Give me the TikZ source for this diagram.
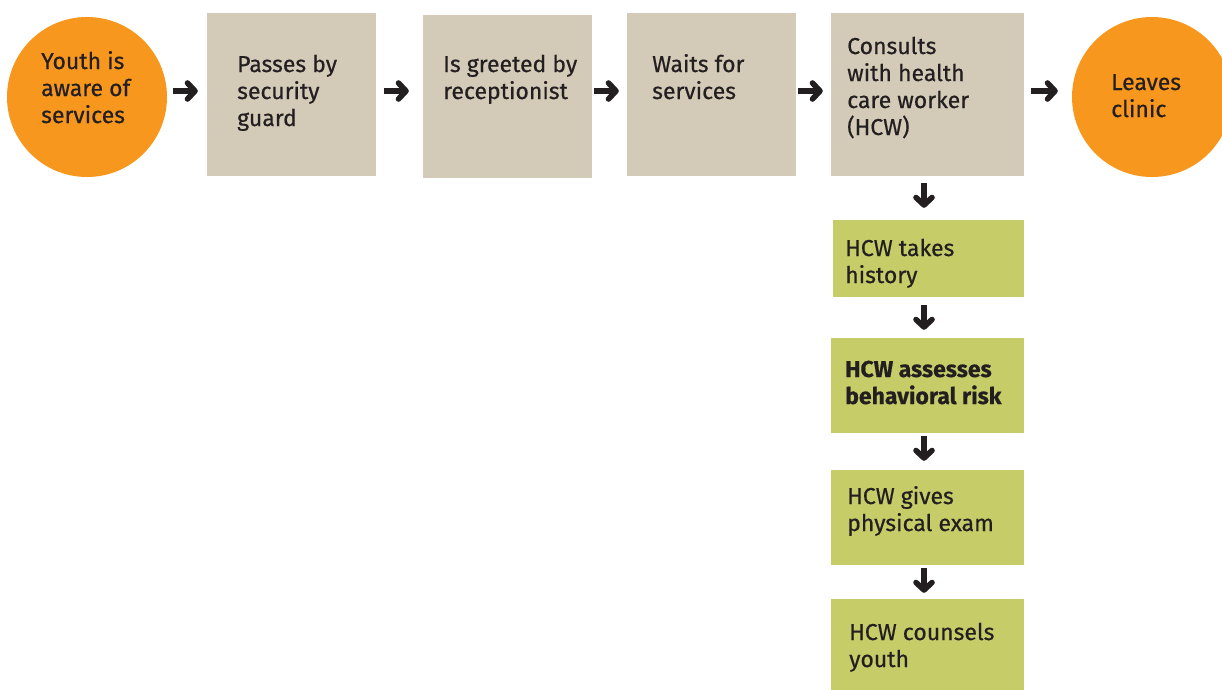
\documentclass[tikz,border=0pt]{standalone}
\usepackage{fontspec}
\setmainfont{Fira Sans}[FakeBold=0.5]
\usetikzlibrary{arrows.meta,calc}
\definecolor{orng}{RGB}{247,151,30}
\definecolor{beige}{RGB}{211,203,184}
\definecolor{grn}{RGB}{197,204,104}
\definecolor{ink}{RGB}{35,31,32}
\tikzset{
  circ/.style={circle,fill=orng,draw=none,minimum size=160pt,inner sep=0pt},
  bbox/.style={rectangle,fill=beige,draw=none,inner sep=0pt},
  gbox/.style={rectangle,fill=grn,draw=none,inner sep=0pt},
  txt/.style={anchor=base west,align=left,inner sep=0pt,text=ink,
    font=\fontsize{23}{27}\selectfont},
  arr/.style={draw=ink,line width=5.6pt,
    -{Straight Barb[length=7.5pt,width=16pt,line cap=round,line join=round]}},
}
\begin{document}
\begin{tikzpicture}[x=1pt,y=-1pt]
\useasboundingbox (0,0) rectangle (1222,689);
\clip (0,0) rectangle (1222,689);
% shapes
\node[circ] (c1) at (87,97) {};
\node[bbox,minimum width=169pt,minimum height=163pt] (b2) at (291.5,94.5) {};
\node[bbox,minimum width=169pt,minimum height=163pt] (b3) at (507.5,96.5) {};
\node[bbox,minimum width=169pt,minimum height=163pt] (b4) at (711.5,94.5) {};
\node[bbox,minimum width=193pt,minimum height=163pt] (b5) at (927.5,94.5) {};
\node[circ] (c6) at (1152,97) {};
\node[gbox,minimum width=191pt,minimum height=77pt] (g1) at (928.5,258.5) {};
\node[gbox,minimum width=193pt,minimum height=95pt] (g2) at (927.5,385.5) {};
\node[gbox,minimum width=193pt,minimum height=95pt] (g3) at (927.5,517.5) {};
\node[gbox,minimum width=193pt,minimum height=92pt] (g4) at (927.5,645) {};
% texts (anchor at baseline of last line)
\node[txt] (t1) at (41,123) {Youth is\\aware of\\services};
\node[txt] (t2) at (237,126) {Passes by\\security\\guard};
\node[txt] (t3) at (443,99) {Is greeted by\\receptionist};
\node[txt] (t4) at (652,99) {Waits for\\services};
\node[txt] (t5) at (847,135) {Consults\\with health\\care worker\\(HCW)};
\node[txt] (t6) at (1111,117) {Leaves\\clinic};
\node[txt] (t7) at (845,283) {HCW takes\\history};
\node[txt,font=\fontsize{23}{27}\selectfont\bfseries] (t8) at (845,404) {HCW assesses\\behavioral risk};
\node[txt] (t9) at (847,531) {HCW gives\\physical exam};
\node[txt] (t10) at (849,667) {HCW counsels\\youth};
% arrows
\coordinate (row) at (0,91);
\coordinate (col) at (924,0);
\draw[arr,shorten <=6pt,shorten >=9pt] (c1.east |- row) -- (b2.west |- row);
\draw[arr,shorten <=8pt,shorten >=14pt] (b2.east |- row) -- (b3.west |- row);
\draw[arr,shorten <=2pt,shorten >=8pt] (b3.east |- row) -- (b4.west |- row);
\draw[arr,shorten <=2pt,shorten >=8pt] (b4.east |- row) -- (b5.west |- row);
\draw[arr,shorten <=7pt,shorten >=14pt] (b5.east |- row) -- (c6.west |- row);
\draw[arr,shorten <=7pt,shorten >=12pt] (b5.south -| col) -- (g1.north -| col);
\draw[arr,shorten <=8pt,shorten >=8pt] (g1.south -| col) -- (g2.north -| col);
\draw[arr,shorten <=3pt,shorten >=9pt] (g2.south -| col) -- (g3.north -| col);
\draw[arr,shorten <=3pt,shorten >=6pt] (g3.south -| col) -- (g4.north -| col);
\end{tikzpicture}
\end{document}
